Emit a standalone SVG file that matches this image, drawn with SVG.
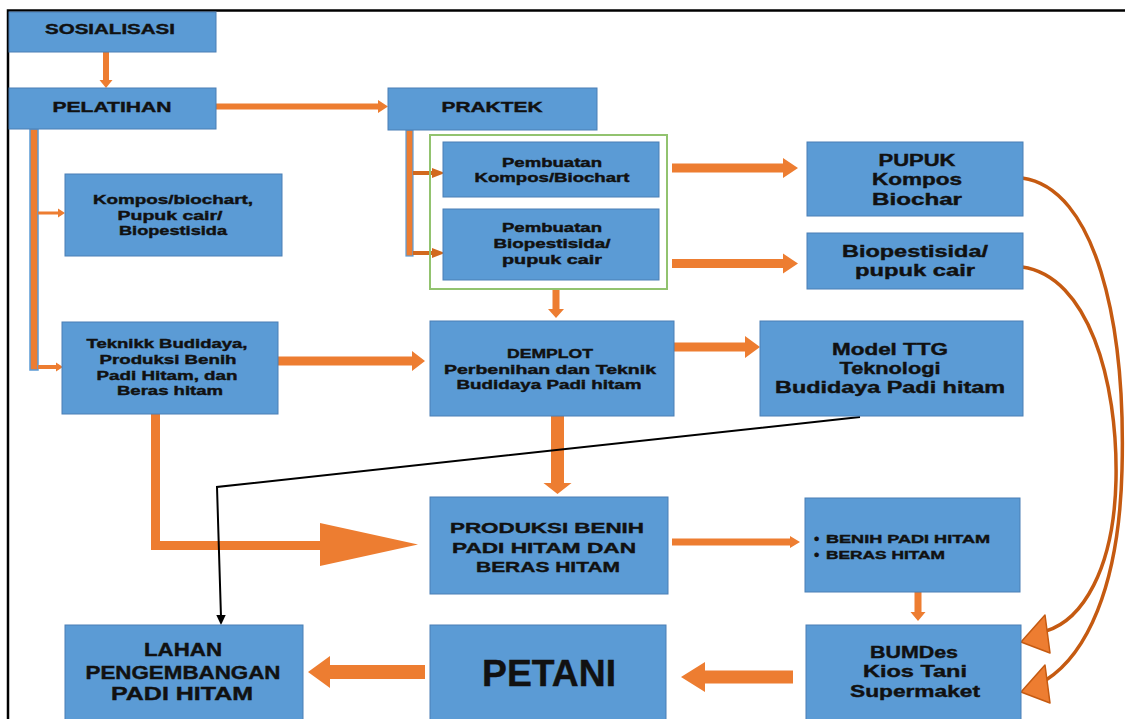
<svg xmlns="http://www.w3.org/2000/svg" width="1125" height="719" viewBox="0 0 1125 719">
<style>
.box{fill:#5b9bd5;stroke:#4a7fb5;stroke-width:1}
.t{font-family:"Liberation Sans",Arial,sans-serif;font-weight:bold;fill:#111;stroke:#111;stroke-width:0.4;text-anchor:middle}
.tl{font-family:"Liberation Sans",Arial,sans-serif;font-weight:bold;fill:#111;stroke:#111;stroke-width:0.4;text-anchor:start}
.ar{fill:#ed7d31}
.ard{fill:#d2691e}
.cv{fill:none;stroke:#c55a11;stroke-width:3.5;stroke-linecap:round}
.hd{fill:#ed7d31;stroke:#c55a11;stroke-width:1.5;stroke-linejoin:round}
</style>
<rect width="1125" height="719" fill="#fff"/>
<path d="M8,719 V10.5 H1125" fill="none" stroke="#000" stroke-width="2.5"/>

<g id="connectors">
  <polygon class="ar" points="103,52 109,52 109,80 112.5,80 106,88 99.5,80 103,80"/>
  <polygon class="ar" points="216,103.5 378,103.5 378,100 388,106.5 378,113 378,109.5 216,109.5"/>
  <rect x="30" y="129" width="8" height="241" fill="#ed7d31" stroke="#5b9bd5" stroke-width="1.5"/>
  <polygon class="ar" points="38,211.5 58,211.5 58,208.5 65,213 58,217.5 58,214.5 38,214.5"/>
  <polygon class="ar" points="38,365 56,365 56,362.5 63,367 56,371.5 56,369 38,369"/>
  <rect x="406" y="130" width="7" height="126" fill="#ed7d31" stroke="#5b9bd5" stroke-width="1.2"/>
  <polygon class="ard" points="413,171 432,171 432,168 445,173 432,178 432,175 413,175"/>
  <polygon class="ard" points="413,251 432,251 432,248 445,253 432,258 432,255 413,255"/>
  <polygon class="ar" points="672,163.5 783,163.5 783,158 798,168 783,178 783,172.5 672,172.5"/>
  <polygon class="ar" points="672,259 783,259 783,253.5 798,263.5 783,273.5 783,268 672,268"/>
  <polygon class="ar" points="552.5,290 559.5,290 559.5,309 564,309 556,318 548,309 552.5,309"/>
  <polygon class="ar" points="278,356.5 412,356.5 412,351 425,361 412,371 412,365.5 278,365.5"/>
  <polygon class="ar" points="674,342.5 745,342.5 745,336 760,347 745,358 745,351.5 674,351.5"/>
  <polygon class="ar" points="551,416 564,416 564,483 571.5,483 557.5,494 543.5,483 551,483"/>
  <polygon class="ar" points="151,414 160,414 160,541 320,541 320,523 418,544.5 320,566 320,550 151,550"/>
  <polygon class="ar" points="672,538.5 790,538.5 790,536 800,542 790,548 790,545.5 672,545.5"/>
  <polygon class="ar" points="914.5,592 921.5,592 921.5,612 925.5,612 918,621 910.5,612 914.5,612"/>
  <polygon class="ar" points="793,670.5 705,670.5 705,662 681,677 705,692 705,683.5 793,683.5"/>
  <polygon class="ar" points="425,665 330,665 330,656 308,672 330,688 330,679 425,679"/>
  <polyline points="860,417 217,487 221,617" fill="none" stroke="#000" stroke-width="2"/>
  <polygon points="216.3,615 225.7,615 221,625" fill="#000"/>
  <path class="cv" d="M1022,178 C1095,188 1126,320 1122,470 C1119,590 1085,655 1046,680"/>
  <path class="cv" d="M1022,267 C1088,276 1118,380 1116,480 C1114,570 1082,620 1046,631"/>
  <polygon class="hd" points="1021,642 1045,615 1050,653"/>
  <polygon class="hd" points="1021,692 1045,665 1050,703"/>
</g>

<rect x="430" y="135" width="237" height="154" fill="none" stroke="#92c36f" stroke-width="2"/>

<g id="sosialisasi"><rect class="box" x="9" y="12" width="207" height="40"/>
<text class="t" x="110" y="34" font-size="15" textLength="130" lengthAdjust="spacingAndGlyphs">SOSIALISASI</text></g>

<g id="pelatihan"><rect class="box" x="9" y="88" width="207" height="41"/>
<text class="t" x="112" y="112" font-size="15" textLength="119" lengthAdjust="spacingAndGlyphs">PELATIHAN</text></g>

<g id="praktek"><rect class="box" x="388" y="88" width="209" height="42"/>
<text class="t" x="492" y="112" font-size="15" textLength="101" lengthAdjust="spacingAndGlyphs">PRAKTEK</text></g>

<g id="pembuatan-kompos"><rect class="box" x="443" y="142" width="216" height="55"/>
<text class="t" x="552" y="167" font-size="12" textLength="100" lengthAdjust="spacingAndGlyphs">Pembuatan</text>
<text class="t" x="552" y="182" font-size="12" textLength="155" lengthAdjust="spacingAndGlyphs">Kompos/Biochart</text></g>

<g id="pembuatan-bio"><rect class="box" x="443" y="209" width="216" height="71"/>
<text class="t" x="552" y="232" font-size="12" textLength="100" lengthAdjust="spacingAndGlyphs">Pembuatan</text>
<text class="t" x="552" y="248" font-size="12" textLength="117" lengthAdjust="spacingAndGlyphs">Biopestisida/</text>
<text class="t" x="552" y="264" font-size="12" textLength="100" lengthAdjust="spacingAndGlyphs">pupuk cair</text></g>

<g id="pupuk"><rect class="box" x="807" y="142" width="216" height="74"/>
<text class="t" x="917" y="166" font-size="16" textLength="77" lengthAdjust="spacingAndGlyphs">PUPUK</text>
<text class="t" x="917" y="185" font-size="16" textLength="90" lengthAdjust="spacingAndGlyphs">Kompos</text>
<text class="t" x="917" y="205" font-size="16" textLength="90" lengthAdjust="spacingAndGlyphs">Biochar</text></g>

<g id="biopestisida"><rect class="box" x="807" y="233" width="216" height="56"/>
<text class="t" x="915" y="257" font-size="16" textLength="146" lengthAdjust="spacingAndGlyphs">Biopestisida/</text>
<text class="t" x="915" y="276" font-size="16" textLength="120" lengthAdjust="spacingAndGlyphs">pupuk cair</text></g>

<g id="kompos-biochart"><rect class="box" x="65" y="174" width="217" height="82"/>
<text class="t" x="173" y="204" font-size="12.5" textLength="160" lengthAdjust="spacingAndGlyphs">Kompos/biochart,</text>
<text class="t" x="170" y="220" font-size="12.5" textLength="105" lengthAdjust="spacingAndGlyphs">Pupuk cair/</text>
<text class="t" x="173" y="235" font-size="12.5" textLength="108" lengthAdjust="spacingAndGlyphs">Biopestisida</text></g>

<g id="teknik-budidaya"><rect class="box" x="62" y="322" width="216" height="92"/>
<text class="t" x="167" y="348" font-size="12.5" textLength="161" lengthAdjust="spacingAndGlyphs">Teknikk Budidaya,</text>
<text class="t" x="168" y="364" font-size="12.5" textLength="137" lengthAdjust="spacingAndGlyphs">Produksi Benih</text>
<text class="t" x="167" y="380" font-size="12.5" textLength="141" lengthAdjust="spacingAndGlyphs">Padi Hitam, dan</text>
<text class="t" x="170" y="395" font-size="12.5" textLength="106" lengthAdjust="spacingAndGlyphs">Beras hitam</text></g>

<g id="demplot"><rect class="box" x="430" y="321" width="244" height="95"/>
<text class="t" x="550" y="358" font-size="12.5" textLength="86" lengthAdjust="spacingAndGlyphs">DEMPLOT</text>
<text class="t" x="550" y="374" font-size="12.5" textLength="212" lengthAdjust="spacingAndGlyphs">Perbenihan  dan Teknik</text>
<text class="t" x="549" y="389" font-size="12.5" textLength="185" lengthAdjust="spacingAndGlyphs">Budidaya Padi hitam</text></g>

<g id="model-ttg"><rect class="box" x="760" y="321" width="263" height="95"/>
<text class="t" x="890" y="355" font-size="16" textLength="116" lengthAdjust="spacingAndGlyphs">Model TTG</text>
<text class="t" x="890" y="374" font-size="16" textLength="101" lengthAdjust="spacingAndGlyphs">Teknologi</text>
<text class="t" x="890" y="393" font-size="16" textLength="230" lengthAdjust="spacingAndGlyphs">Budidaya Padi hitam</text></g>

<g id="produksi"><rect class="box" x="430" y="497" width="238" height="97"/>
<text class="t" x="547" y="533" font-size="15.5" textLength="194" lengthAdjust="spacingAndGlyphs">PRODUKSI BENIH</text>
<text class="t" x="544" y="553" font-size="15.5" textLength="184" lengthAdjust="spacingAndGlyphs">PADI HITAM DAN</text>
<text class="t" x="548" y="572" font-size="15.5" textLength="144" lengthAdjust="spacingAndGlyphs">BERAS HITAM</text></g>

<g id="benih-beras"><rect class="box" x="805" y="498" width="215" height="94"/>
<text class="tl" x="814" y="544" font-size="15">•</text>
<text class="tl" x="826" y="543" font-size="11.5" textLength="164" lengthAdjust="spacingAndGlyphs">BENIH PADI HITAM</text>
<text class="tl" x="814" y="560" font-size="15">•</text>
<text class="tl" x="826" y="559" font-size="11.5" textLength="119" lengthAdjust="spacingAndGlyphs">BERAS HITAM</text></g>

<g id="bumdes"><rect class="box" x="806" y="625" width="215" height="97"/>
<text class="t" x="914" y="658" font-size="16" textLength="88" lengthAdjust="spacingAndGlyphs">BUMDes</text>
<text class="t" x="915" y="677" font-size="16" textLength="104" lengthAdjust="spacingAndGlyphs">Kios Tani</text>
<text class="t" x="915" y="697" font-size="16" textLength="130" lengthAdjust="spacingAndGlyphs">Supermaket</text></g>

<g id="petani"><rect class="box" x="430" y="625" width="236" height="97"/>
<text class="t" x="549" y="686" font-size="37" textLength="134" lengthAdjust="spacingAndGlyphs">PETANI</text></g>

<g id="lahan"><rect class="box" x="65" y="625" width="238" height="97"/>
<text class="t" x="183" y="656" font-size="18" textLength="78" lengthAdjust="spacingAndGlyphs">LAHAN</text>
<text class="t" x="183" y="679" font-size="18" textLength="195" lengthAdjust="spacingAndGlyphs">PENGEMBANGAN</text>
<text class="t" x="182" y="700" font-size="18" textLength="142" lengthAdjust="spacingAndGlyphs">PADI HITAM</text></g>
</svg>
